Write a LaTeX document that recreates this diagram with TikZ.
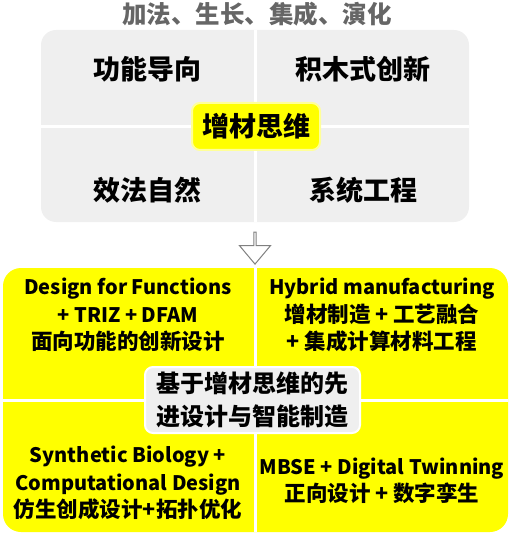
\documentclass[tikz,border=0pt]{standalone}
\usepackage{fontspec}
\setmainfont{Noto Sans CJK SC}
\usetikzlibrary{shapes.arrows}

\definecolor{boxgrey}{HTML}{EFEFEF}
\definecolor{keyyellow}{HTML}{FFFF00}
\definecolor{titlegrey}{HTML}{666666}

% Latin lines a little smaller than the Chinese ones
\newcommand{\enline}[1]{{\fontsize{20bp}{27.5bp}\selectfont #1}}

\tikzset{
    quadtext/.style={font=\bfseries\fontsize{27bp}{30bp}\selectfont},
    celltext/.style={align=center, font=\bfseries\fontsize{21.5bp}{27.5bp}\selectfont},
    divider/.style={white, line width=3bp},
}

\begin{document}
\begin{tikzpicture}[x=1bp,y=-1bp]
    \useasboundingbox (0,0) rectangle (511,534);

    % Title line
    \node[font=\bfseries\fontsize{24.5bp}{26bp}\selectfont, text=titlegrey] (title) at (257,14) {加法、生长、集成、演化};

    % Grey box with four quadrants
    \fill[boxgrey, rounded corners=15bp] (41,30) rectangle (469,222);
    \draw[divider] (255,30) -- (255,222); % vertical split
    \draw[divider] (41,127) -- (469,127); % horizontal split

    \node[quadtext] (func) at (147,69) {功能导向};
    \node[quadtext] (block) at (363,69) {积木式创新};
    \node[quadtext] (nature) at (147,190) {效法自然};
    \node[quadtext] (system) at (363,190) {系统工程};

    % Centre key
    \node[quadtext, fill=keyyellow, draw=keyyellow!40, line width=2bp, rounded corners=8bp,
          minimum width=128bp, minimum height=47bp, inner sep=0pt] (think) at (256,126.5) {增材思维};

    % Hollow arrow down
    \node[single arrow, draw=gray, fill=white, line width=1bp, shape border rotate=270,
          minimum height=32bp, minimum width=31bp, single arrow head extend=7bp,
          single arrow tip angle=80, inner sep=0pt] (arrow) at (255,247.5) {};

    % Yellow box with four quadrants
    \fill[keyyellow, rounded corners=18bp] (3,268) rectangle (508,532);
    \draw[divider] (255,268) -- (255,532); % vertical split
    \draw[divider] (3,400) -- (508,400); % horizontal split

    \node[celltext] (dff) at (128,315) {\enline{Design for Functions}\\\enline{+ TRIZ + DFAM}\\面向功能的创新设计};
    \node[celltext] (hybrid) at (382,315) {\enline{Hybrid manufacturing}\\增材制造 + 工艺融合\\+ 集成计算材料工程};
    \node[celltext] (bio) at (128,483) {\enline{Synthetic Biology +}\\\enline{Computational Design}\\仿生创成设计+拓扑优化};
    \node[celltext] (mbse) at (382,481) {\enline{MBSE + Digital Twinning}\\正向设计 + 数字孪生};

    % Centre label
    \node[align=center, font=\bfseries\fontsize{24bp}{33bp}\selectfont, fill=boxgrey, draw=white,
          line width=2bp, rounded corners=8bp, minimum width=215bp, minimum height=66bp,
          inner sep=0pt] (smart) at (252.5,400) {基于增材思维的先\\进设计与智能制造};

\end{tikzpicture}
\end{document}
